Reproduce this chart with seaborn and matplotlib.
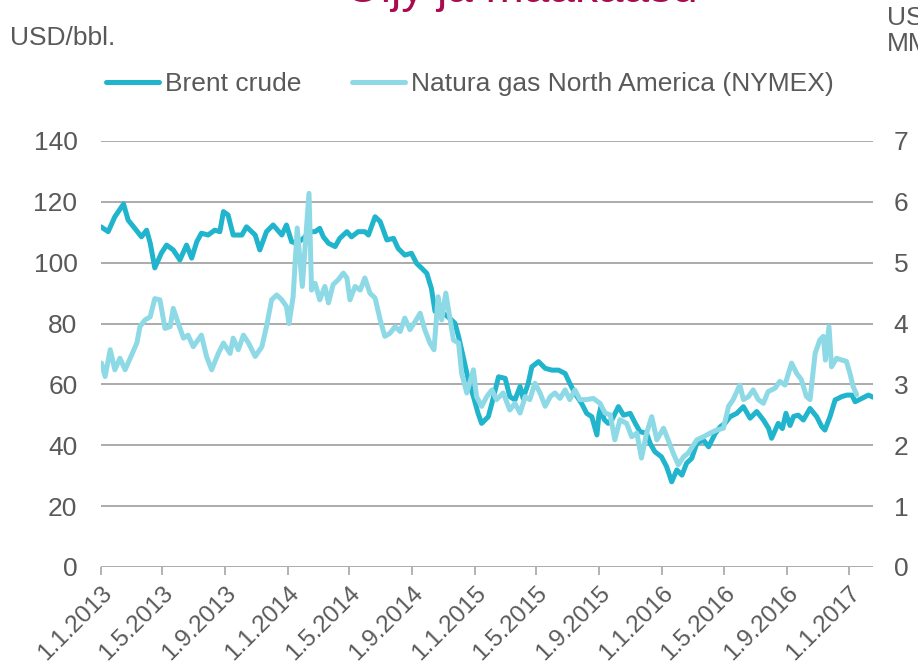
import pandas as pd
import matplotlib
matplotlib.use("Agg")
import matplotlib.pyplot as plt
import seaborn as sns

# Prices, sampled roughly weekly. Day numbers count from 1 Jan 2013.
brent_day = [0, 14, 27, 44, 53, 66, 79, 89, 96, 105, 118, 128, 141, 154, 167, 177, 187, 196,
             209, 222, 232, 239, 248, 258, 275, 284, 301, 310, 323, 336, 353, 362, 372, 382,
             395, 408, 418, 427, 434, 444, 457, 466, 480, 489, 502, 515, 522, 535, 545, 558,
             571, 580, 593, 606, 616, 626, 636, 645, 652, 658, 668, 681, 691, 698, 707, 717,
             727, 736, 743, 756, 763, 776, 789, 798, 808, 818, 824, 834, 841, 854, 867, 880,
             893, 906, 915, 925, 938, 948, 958, 968, 972, 976, 982, 990, 997, 1010, 1020, 1033,
             1043, 1052, 1065, 1072, 1081, 1094, 1104, 1114, 1124, 1134, 1143, 1153, 1163,
             1176, 1186, 1199, 1209, 1218, 1228, 1241, 1254, 1267, 1280, 1293, 1303, 1309,
             1322, 1330, 1337, 1345, 1352, 1361, 1371, 1384, 1397, 1407, 1413, 1423, 1433,
             1446, 1456, 1466, 1472, 1485, 1498, 1507]
brent_usd = [111.8, 110.2, 115.1, 119.3, 114.0, 111.3, 108.5, 110.7, 106.5, 98.3, 103.2, 105.8,
             104.2, 100.9, 105.8, 101.5, 106.9, 109.7, 109.1, 110.7, 110.2, 116.8, 115.7, 109.1,
             109.1, 111.8, 109.1, 104.2, 110.2, 112.4, 109.1, 112.4, 106.9, 106.4, 108.0, 110.2,
             110.2, 111.3, 108.5, 106.4, 105.3, 108.0, 110.2, 108.5, 110.2, 110.2, 109.1, 115.1,
             113.5, 107.5, 108.0, 104.7, 102.5, 103.1, 99.8, 98.2, 96.5, 91.5, 84.0, 85.5, 83.4,
             81.7, 80.1, 75.7, 69.1, 61.5, 56.0, 50.5, 47.2, 49.4, 53.8, 62.5, 62.0, 56.0, 54.9,
             59.3, 55.4, 60.4, 65.8, 67.5, 65.3, 64.7, 64.7, 63.6, 60.4, 57.1, 53.8, 50.5, 49.4,
             43.4, 50.0, 52.7, 48.5, 47.2, 48.3, 52.7, 49.9, 50.5, 47.2, 44.5, 43.9, 40.6, 37.9,
             36.2, 33.0, 28.0, 31.9, 30.2, 34.1, 35.7, 40.6, 41.7, 39.5, 43.9, 46.1, 47.2, 49.4,
             50.5, 52.7, 48.9, 51.1, 48.3, 45.6, 42.3, 47.2, 45.5, 50.5, 46.5, 49.5, 49.9, 48.3,
             52.1, 49.4, 46.1, 45.0, 49.4, 54.9, 56.0, 56.5, 56.5, 54.3, 55.4, 56.5, 55.8]

gas_day = [1, 8, 18, 27, 37, 47, 57, 70, 76, 86, 96, 105, 115, 125, 135, 141, 151, 161, 170,
           180, 196, 206, 216, 229, 239, 252, 258, 268, 278, 288, 301, 314, 323, 333, 343,
           353, 362, 367, 375, 383, 388, 393, 398, 406, 411, 418, 427, 437, 444, 453, 463,
           473, 480, 486, 496, 506, 515, 525, 535, 545, 554, 564, 574, 584, 593, 603, 613,
           623, 632, 642, 650, 658, 665, 673, 681, 688, 698, 704, 714, 727, 733, 743, 753,
           763, 772, 785, 798, 808, 818, 828, 837, 847, 857, 867, 877, 886, 896, 906, 915,
           925, 935, 948, 961, 974, 984, 994, 1003, 1013, 1026, 1036, 1046, 1055, 1065, 1075,
           1085, 1098, 1107, 1117, 1127, 1137, 1146, 1163, 1176, 1189, 1202, 1215, 1225,
           1234, 1247, 1254, 1264, 1273, 1283, 1293, 1302, 1316, 1325, 1335, 1348, 1358,
           1367, 1377, 1384, 1394, 1403, 1410, 1414, 1421, 1426, 1436, 1446, 1455, 1462,
           1468, 1475]
gas_usd = [3.35, 3.13, 3.57, 3.24, 3.43, 3.24, 3.43, 3.68, 3.95, 4.06, 4.11, 4.41, 4.39, 3.92,
           3.95, 4.25, 4.00, 3.76, 3.81, 3.62, 3.81, 3.46, 3.24, 3.51, 3.68, 3.51, 3.76, 3.57,
           3.81, 3.68, 3.46, 3.62, 3.95, 4.39, 4.47, 4.39, 4.28, 4.00, 4.44, 5.57, 5.10, 4.61,
           5.21, 6.14, 4.55, 4.66, 4.39, 4.61, 4.34, 4.64, 4.72, 4.83, 4.75, 4.39, 4.61, 4.55,
           4.75, 4.50, 4.42, 4.06, 3.79, 3.84, 3.95, 3.87, 4.09, 3.90, 4.03, 4.17, 3.90, 3.68,
           3.57, 4.44, 4.06, 4.50, 4.09, 3.73, 3.68, 3.18, 2.86, 3.24, 2.80, 2.64, 2.80, 2.91,
           2.75, 2.86, 2.58, 2.69, 2.53, 2.80, 2.75, 3.02, 2.86, 2.64, 2.80, 2.86, 2.77, 2.91,
           2.75, 2.91, 2.75, 2.75, 2.77, 2.69, 2.53, 2.50, 2.09, 2.42, 2.36, 2.14, 2.20, 1.79,
           2.20, 2.47, 2.09, 2.28, 2.09, 1.87, 1.68, 1.81, 1.87, 2.09, 2.14, 2.20, 2.25, 2.28,
           2.64, 2.75, 2.99, 2.75, 2.80, 2.91, 2.75, 2.69, 2.88, 2.94, 3.05, 2.99, 3.35, 3.18,
           3.08, 2.80, 2.75, 3.51, 3.73, 3.79, 3.40, 3.95, 3.29, 3.43, 3.40, 3.38, 3.18, 2.97,
           2.83]

x_tick_dates = ["2013-01-01", "2013-05-01", "2013-09-01", "2014-01-01", "2014-05-01",
                "2014-09-01", "2015-01-01", "2015-05-01", "2015-09-01", "2016-01-01",
                "2016-05-01", "2016-09-01", "2017-01-01"]
x_tick_labels = ["1.1.2013", "1.5.2013", "1.9.2013", "1.1.2014", "1.5.2014", "1.9.2014",
                 "1.1.2015", "1.5.2015", "1.9.2015", "1.1.2016", "1.5.2016", "1.9.2016",
                 "1.1.2017"]
left_ticks = [0, 20, 40, 60, 80, 100, 120, 140]
right_ticks = [0, 1, 2, 3, 4, 5, 6, 7]

START = pd.Timestamp("2013-01-01")
END_DAY = 1507

BRENT_COLOR = "#21B4CD"
GAS_COLOR = "#8ED9E6"
GRID_COLOR = "#A5A5A5"
TEXT_COLOR = "#595959"
TITLE_COLOR = "#AA0A50"
FS = 19

sns.set_theme(style="white")
plt.rcParams["font.family"] = ["Liberation Sans", "DejaVu Sans"]

brent = pd.DataFrame({"date": START + pd.to_timedelta(brent_day, unit="D"), "price": brent_usd})
gas = pd.DataFrame({"date": START + pd.to_timedelta(gas_day, unit="D"), "price": gas_usd})

W, H = 918, 669
fig = plt.figure(figsize=(W / 100, H / 100), dpi=100)
ax = fig.add_axes([101 / W, 1 - 567 / H, (END_DAY * 0.5123) / W, 426 / H])
ax2 = ax.twinx()

sns.lineplot(data=brent, x="date", y="price", ax=ax, color=BRENT_COLOR, linewidth=3.6,
             label="Brent crude", legend=False)
sns.lineplot(data=gas, x="date", y="price", ax=ax2, color=GAS_COLOR, linewidth=3.6,
             label="Natura gas North America (NYMEX)", legend=False)

ax.set_xlim(START, START + pd.Timedelta(days=END_DAY))
ax.set_ylim(0, 140)
ax2.set_ylim(0, 7)
ax.set_yticks(left_ticks)
ax2.set_yticks(right_ticks)
ax.set_xticks(pd.to_datetime(x_tick_dates))
ax.set_xticklabels(x_tick_labels, rotation=45, ha="right", va="top", rotation_mode="anchor")

ax.set_xlabel("")
ax.set_ylabel("")
ax2.set_ylabel("")

ax.set_axisbelow(True)
ax.yaxis.grid(True, color=GRID_COLOR, linewidth=1.3)
ax.xaxis.grid(False)
ax2.grid(False)

for a in (ax, ax2):
    for side in ("top", "left", "right", "bottom"):
        a.spines[side].set_visible(False)

ax.tick_params(axis="x", direction="out", length=6, width=1.2, color=GRID_COLOR,
               labelsize=17.5, labelcolor=TEXT_COLOR, pad=5, bottom=True)
ax.tick_params(axis="y", length=0, labelsize=FS, labelcolor=TEXT_COLOR, pad=17)
ax2.tick_params(axis="y", length=0, labelsize=FS, labelcolor=TEXT_COLOR, pad=15)

h1, l1 = ax.get_legend_handles_labels()
h2, l2 = ax2.get_legend_handles_labels()
fig.legend(h1 + h2, l1 + l2, loc="center left", bbox_to_anchor=(106 / W, 1 - 84 / H),
           ncol=2, frameon=False, fontsize=FS, labelcolor=TEXT_COLOR, handlelength=2.0,
           handletextpad=0.25, columnspacing=1.9, borderpad=0, borderaxespad=0)

fig.text(10 / W, 1 - 38 / H, "USD/bbl.", ha="left", va="center", fontsize=FS, color=TEXT_COLOR)
fig.text(887 / W, 1 - 6 / H, "USD/\nMMBtu", ha="left", va="top", fontsize=FS,
         color=TEXT_COLOR, linespacing=1.1)
fig.text(521 / W, 1 - 2 / H, "Öljy ja maakaasu", ha="center", va="baseline", fontsize=33,
         color=TITLE_COLOR)

fig.savefig("out.png", dpi=100)
